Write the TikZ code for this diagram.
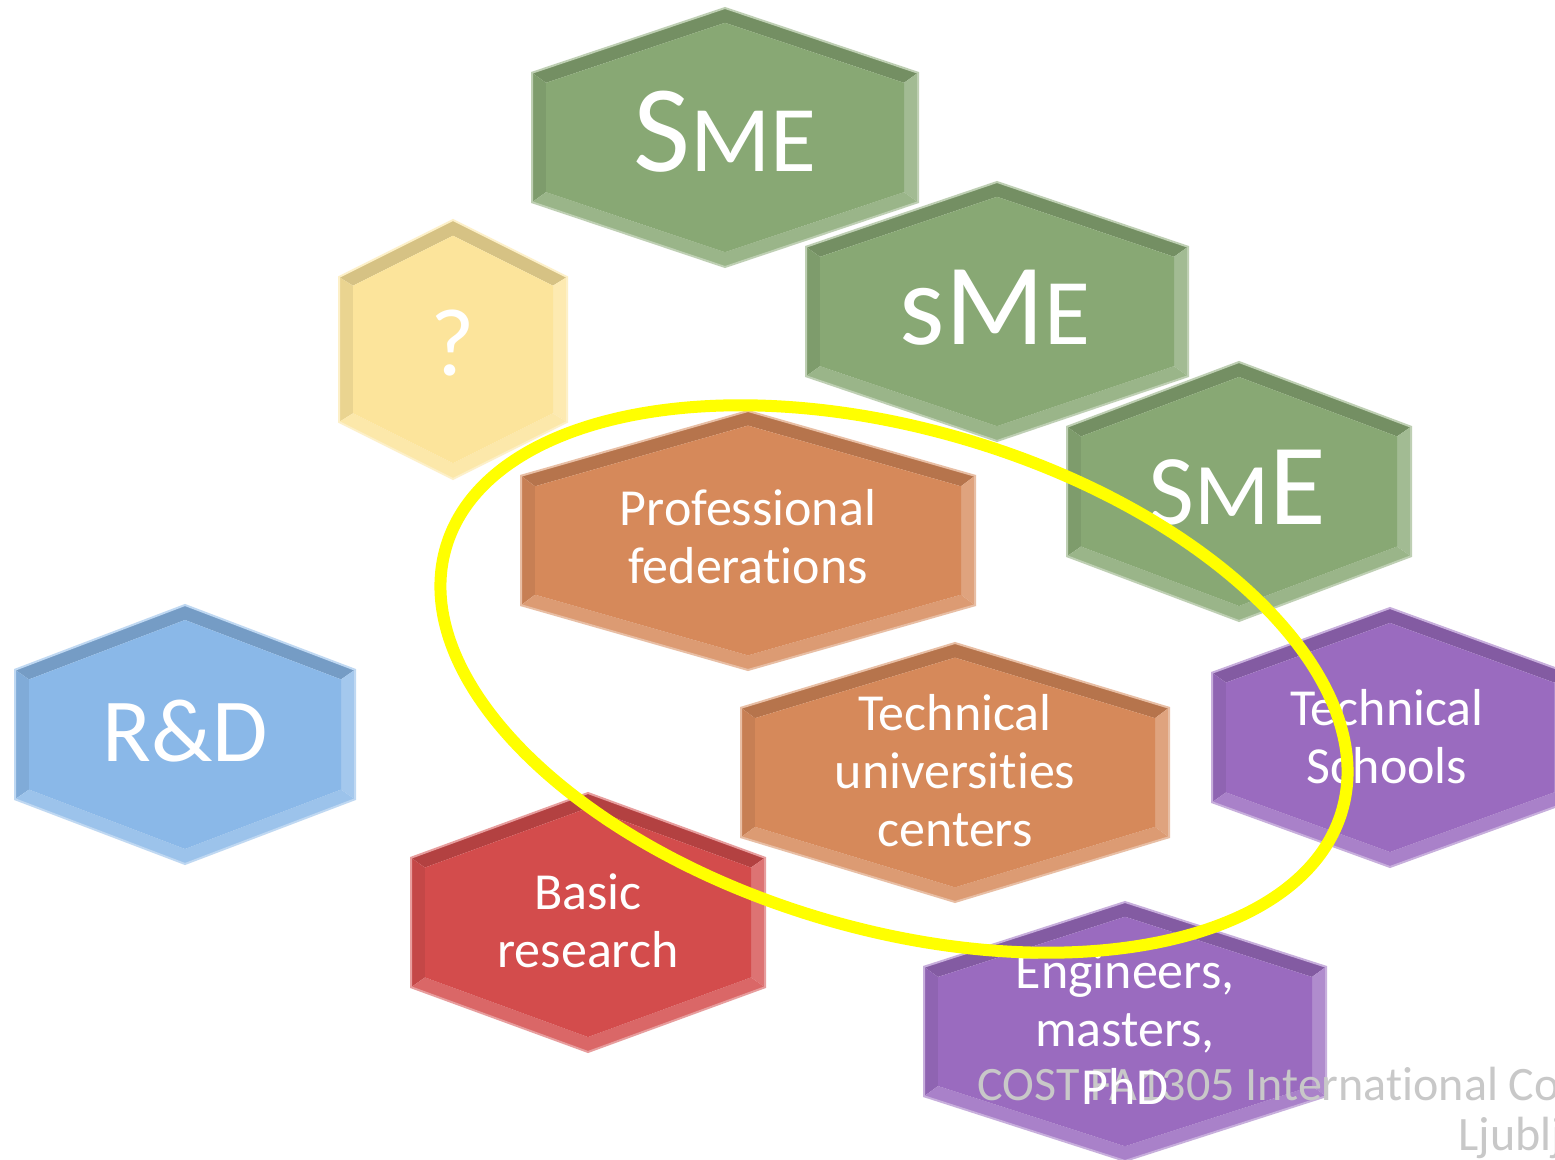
\documentclass[tikz,border=0pt]{standalone}
\usepackage{fontspec}
\setmainfont{Carlito}[Ligatures=NoCommon]
\usepackage{xcolor}
\usepackage{tikz}
\usetikzlibrary{calc}
\definecolor{smegreen}{HTML}{88A874}
\definecolor{questyellow}{HTML}{FCE49B}
\definecolor{profochre}{HTML}{D6895A}
\definecolor{rdblue}{HTML}{8AB8E8}
\definecolor{basicred}{HTML}{D34C4C}
\definecolor{schoolpurple}{HTML}{9A6BBF}
\definecolor{ring}{HTML}{FFFF00}
\definecolor{footer}{HTML}{C8C8C8}
\tikzset{
  hexlab/.style={text=white, align=center, inner sep=0pt, font={\fontsize{26}{29}\selectfont}},
  biglab/.style={text=white, anchor=base, inner sep=0pt},
  footlab/.style={text=footer, anchor=base west, inner sep=0pt, font={\fontsize{24}{29}\selectfont}},
  ringline/.style={draw=ring, line width=6pt}
}

\begin{document}
\begin{tikzpicture}[x=0.5pt, y=-0.5pt]
  \useasboundingbox (0,0) rectangle (1555,1160);
  \fill[white] (0,0) rectangle (1555,1160);

  % hexagons: name / centre x / top y / half width / colour
  \foreach \nm/\cx/\ty/\hw/\col in {
      sme/725/8/193/smegreen, smetwo/997/182/191/smegreen, smethree/1239/362/172/smegreen,
      ques/453/220/114/questyellow, rd/185/605/170/rdblue,
      prof/748/411/227/profochre, tech/955/643/214/profochre,
      school/1390/608/178/schoolpurple, basic/588/793/177/basicred,
      eng/1125/902/201/schoolpurple}{
    \pgfmathsetmacro\qq{0.25*min(2*\hw,259)}
    \pgfmathsetmacro\slope{\qq/\hw}
    \pgfmathsetmacro\kk{14*sqrt(1+\slope*\slope)}
    \pgfmathsetmacro\xl{\cx-\hw}
    \pgfmathsetmacro\xr{\cx+\hw}
    \pgfmathsetmacro\xli{\xl+14}
    \pgfmathsetmacro\xri{\xr-14}
    \pgfmathsetmacro\ya{\ty+\qq}
    \pgfmathsetmacro\yb{\ty+259-\qq}
    \pgfmathsetmacro\yc{\ty+259}
    \pgfmathsetmacro\yti{\ty+\kk}
    \pgfmathsetmacro\yai{\ty+\slope*(\hw-14)+\kk}
    \pgfmathsetmacro\ybi{\yc-\slope*(\hw-14)-\kk}
    \pgfmathsetmacro\yci{\yc-\kk}
    % bevel facets
    \fill[fill=\col!85!black] (\xl,\ya) -- (\cx,\ty) -- (\xr,\ya) -- (\xri,\yai) -- (\cx,\yti) -- (\xli,\yai) -- cycle;
    \fill[fill=\col!93!black] (\xl,\ya) -- (\xli,\yai) -- (\xli,\ybi) -- (\xl,\yb) -- cycle;
    \fill[fill=\col!78!white] (\xr,\ya) -- (\xri,\yai) -- (\xri,\ybi) -- (\xr,\yb) -- cycle;
    \fill[fill=\col!85!white] (\xl,\yb) -- (\xli,\ybi) -- (\cx,\yci) -- (\xri,\ybi) -- (\xr,\yb) -- (\cx,\yc) -- cycle;
    \fill[fill=\col] (\cx,\yti) -- (\xri,\yai) -- (\xri,\ybi) -- (\cx,\yci) -- (\xli,\ybi) -- (\xli,\yai) -- cycle;
    \draw[draw=\col!55!white, line width=1pt] (\cx,\ty) -- (\xr,\ya) -- (\xr,\yb) -- (\cx,\yc) -- (\xl,\yb) -- (\xl,\ya) -- cycle;
    \coordinate (\nm) at (\cx,\ty+129.5);
  }

  % footer
  \node[footlab] (cost) at (977,1100) {COST FA1305 International Co};
  \node[footlab] (city) at (1458,1150) {Ljublja};

  % labels
  \node[biglab] (smetxt) at ($(sme)+(0,34.5)$) {\fontsize{62}{62}\selectfont S\fontsize{47}{47}\selectfont ME};
  \node[biglab] (smetwotxt) at ($(smetwo)+(-2,33.5)$) {\fontsize{58}{58}\selectfont sM\fontsize{47}{47}\selectfont E};
  \node[biglab] (smethreetxt) at ($(smethree)+(-2,33.5)$) {\fontsize{50}{50}\selectfont S\fontsize{44}{44}\selectfont M\fontsize{58}{58}\selectfont E};
  \node[biglab] (questxt) at ($(ques)+(0,26.5)$) {\fontsize{48}{48}\selectfont ?};
  \node[biglab] (rdtxt) at ($(rd)+(0,27.5)$) {\fontsize{45}{45}\selectfont R\&D};
  \node[hexlab] (proftxt) at ($(prof)+(0,-3.5)$) {Professional\\federations};
  \node[hexlab] (techtxt) at ($(tech)+(0,-1.5)$) {Technical\\universities\\centers};
  \node[hexlab] (schooltxt) at ($(school)+(-3,-1)$) {Technical\\Schools};
  \node[hexlab] (basictxt) at ($(basic)+(0,-1.5)$) {Basic\\research};
  \node[hexlab] (engtxt) at ($(eng)+(0,-3)$) {Engineers,\\masters,\\PhD};

  % ring round the middle
  \draw[ringline, rotate around={-16.4:(894,679)}] (894,679) ellipse [x radius=467, y radius=250];
\end{tikzpicture}
\end{document}
